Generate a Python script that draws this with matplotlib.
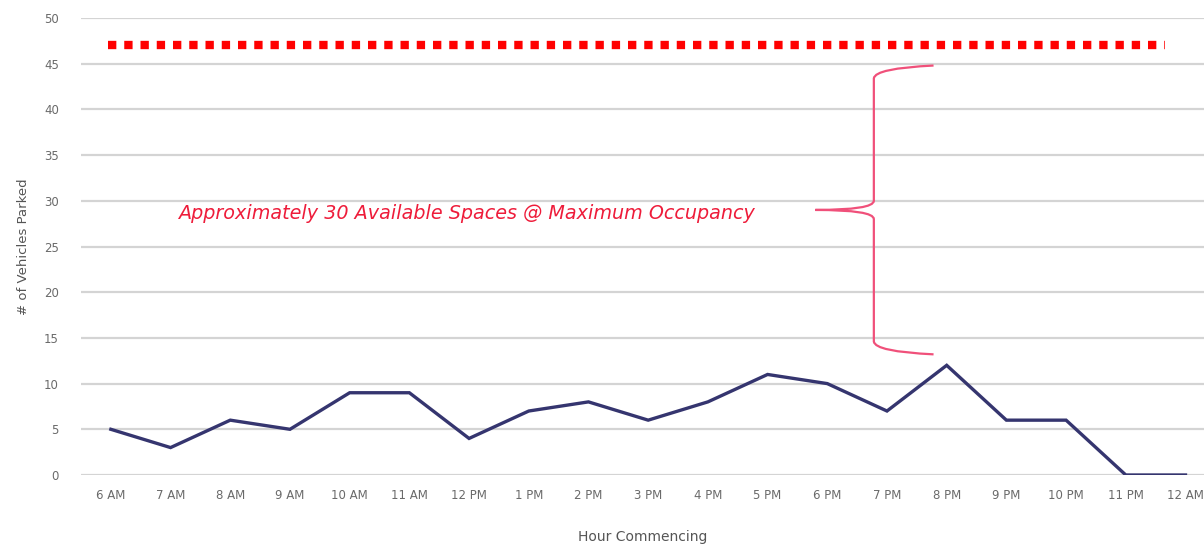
import matplotlib
matplotlib.use("Agg")
import matplotlib.pyplot as plt
from matplotlib.path import Path
import matplotlib.patches as mpatches

# ── data ─────────────────────────────────────────────────────────────────────
hours = ["6 AM", "7 AM", "8 AM", "9 AM", "10 AM", "11 AM", "12 PM", "1 PM",
         "2 PM", "3 PM", "4 PM", "5 PM", "6 PM", "7 PM", "8 PM", "9 PM",
         "10 PM", "11 PM", "12 AM"]
parked = [5, 3, 6, 5, 9, 9, 4, 7, 8, 6, 8, 11, 10, 7, 12, 6, 6, 0, 0]
capacity = 47

NAVY = "#35356f"
RED = "#ee1c3a"
GRID = "#d4d4d4"
TICK = "#6a6a6a"

fig = plt.figure(figsize=(12.04, 5.44), dpi=100)
ax = fig.add_axes([81 / 1204, 69 / 544, 1123 / 1204, 457 / 544])

x = list(range(len(hours)))
ax.plot(x, parked, color=NAVY, lw=2.4, solid_joinstyle="miter", zorder=3)

# capacity line (dotted red)
ax.hlines(capacity, -0.05, 17.65, colors="#ff0000", lw=6,
          linestyles=(0, (1.0, 0.95)), zorder=4)

# brace spanning the spare spaces between peak and capacity
bx, tip, top, bot, mid = 12.78, 11.8, 44.8, 13.2, 29.0
ends = 13.78
verts = [(ends, top), (bx + 0.02, top - 0.3), (bx, top - 1.4),
         (bx, mid + 1.0), (bx, mid), (tip, mid),
         (bx, mid), (bx, mid - 1.0),
         (bx, bot + 1.4), (bx + 0.02, bot + 0.3), (ends, bot)]
codes = [Path.MOVETO, Path.CURVE3, Path.CURVE3,
         Path.LINETO, Path.CURVE3, Path.CURVE3,
         Path.CURVE3, Path.CURVE3,
         Path.LINETO, Path.CURVE3, Path.CURVE3]
ax.add_patch(mpatches.PathPatch(Path(verts, codes), fill=False,
                                edgecolor="#f0507a", lw=1.6, zorder=4))

ax.text(5.95, 28.6, "Approximately 30 Available Spaces @ Maximum Occupancy",
        color=RED, fontsize=13.8, style="italic", ha="center", va="center",
        zorder=5)

ax.set_xlim(-0.5, 18.31)
ax.set_ylim(0, 50)
ax.set_yticks(range(0, 51, 5))
ax.set_xticks(x)
ax.set_xticklabels(hours)
ax.yaxis.grid(True, color=GRID, lw=1.6)
ax.set_axisbelow(True)
for s in ax.spines.values():
    s.set_visible(False)
ax.tick_params(length=0, labelsize=8.5, colors=TICK, pad=10)
ax.tick_params(axis="y", pad=16)

ax.set_xlabel("Hour Commencing", fontsize=10, color="#555555", labelpad=20)
ax.set_ylabel("# of Vehicles Parked", fontsize=9.5, color="#555555",
              labelpad=10)

fig.savefig("out.png", dpi=100)
